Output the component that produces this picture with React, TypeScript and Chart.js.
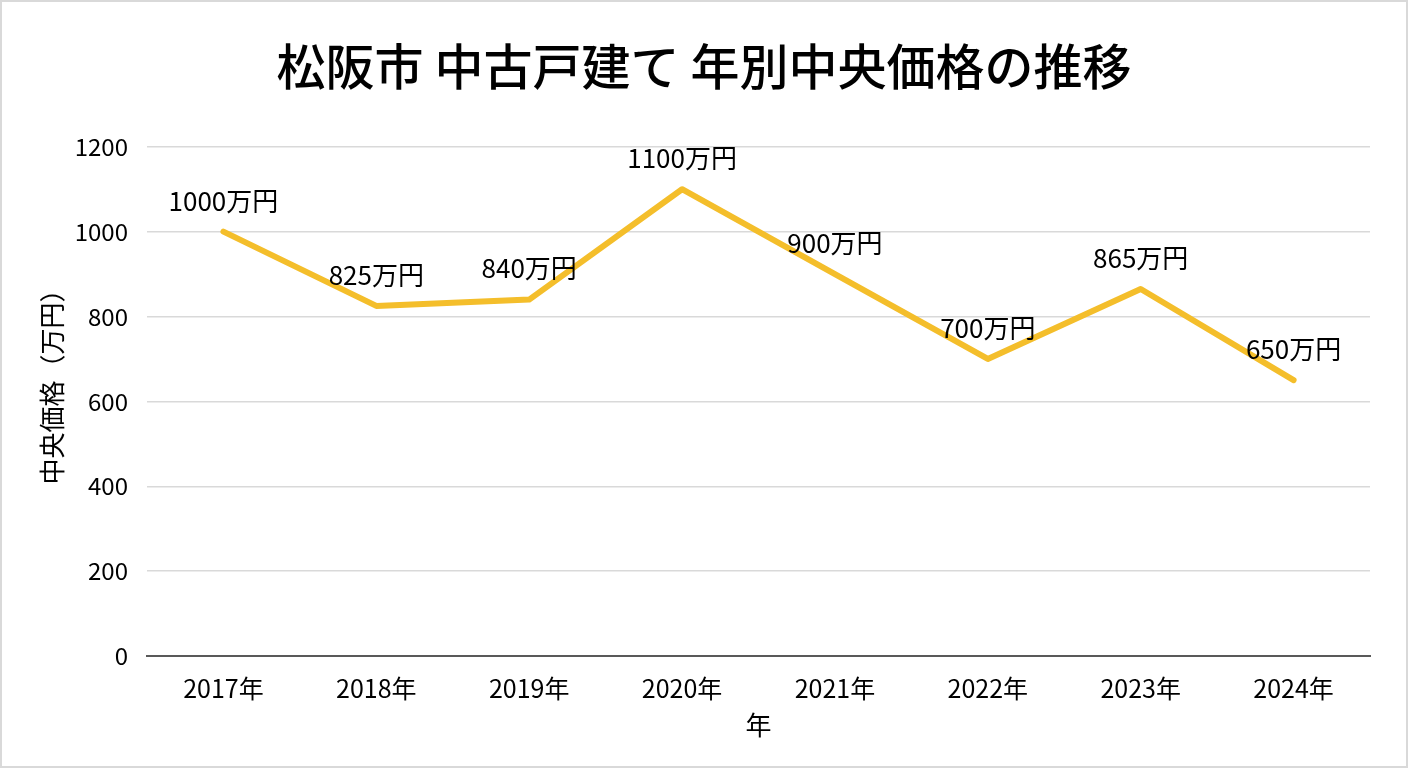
import React, { useEffect, useRef } from "react";
import { Chart, registerables } from "chart.js";

Chart.register(...registerables);

const categories = ["2017年", "2018年", "2019年", "2020年", "2021年", "2022年", "2023年", "2024年"];
const prices = [1000, 825, 840, 1100, 900, 700, 865, 650];
const dataLabels = ["1000万円", "825万円", "840万円", "1100万円", "900万円", "700万円", "865万円", "650万円"];
const yTicks = [0, 200, 400, 600, 800, 1000, 1200];
const yAxisTitle = "中央価格（万円）";

const FONT = "'Noto Sans CJK JP', 'Noto Sans', sans-serif";

const labelPlugin = {
  id: "pointLabels",
  afterDatasetsDraw(chart: any) {
    const meta = chart.getDatasetMeta(0);
    const ctx = chart.ctx;
    ctx.save();
    ctx.font = `26px ${FONT}`;
    ctx.fillStyle = "#000000";
    ctx.textAlign = "center";
    ctx.textBaseline = "middle";
    meta.data.forEach((pt: any, i: number) => {
      ctx.fillText(dataLabels[i], pt.x, pt.y - 31);
    });
    // y axis title
    const area = chart.chartArea;
    ctx.translate(50, (area.top + area.bottom) / 2 - 21);
    ctx.rotate(-Math.PI / 2);
    ctx.fillText(yAxisTitle, 0, 0);
    ctx.restore();
  },
};

export default function App() {
  const ref = useRef<HTMLCanvasElement>(null);
  useEffect(() => {
    document.body.style.margin = "0";
    const chart = new Chart(ref.current!, {
      type: "line",
      data: {
        labels: categories,
        datasets: [
          {
            data: prices,
            borderColor: "#F4BE2B",
            borderWidth: 6,
            pointRadius: 0,
            tension: 0,
            fill: false,
            borderJoinStyle: "round",
            borderCapStyle: "round",
          },
        ],
      },
      options: {
        animation: false,
        responsive: false,
        maintainAspectRatio: false,
        layout: { padding: { left: 0, right: 0, top: 0, bottom: 0 } },
        plugins: {
          legend: { display: false },
          tooltip: { enabled: false },
          title: {
            display: true,
            text: "松阪市 中古戸建て 年別中央価格の推移",
            color: "#000000",
            font: { family: FONT, size: 49, weight: "500" },
            padding: { top: 35, bottom: 51 },
          },
        },
        scales: {
          x: {
            offset: true,
            grid: { display: false, drawTicks: false },
            border: { display: true, color: "#595959", width: 2 },
            ticks: { color: "#000000", font: { family: FONT, size: 25 }, padding: 17, maxRotation: 0 },
            title: {
              display: true,
              text: "年",
              color: "#000000",
              font: { family: FONT, size: 26 },
              padding: { top: 0, bottom: 25 },
            },
            afterFit: (axis: any) => {
              axis.height = 110;
            },
          },
          y: {
            min: 0,
            max: 1200,
            afterBuildTicks: (axis: any) => {
              axis.ticks = yTicks.map((v) => ({ value: v }));
            },
            grid: { color: "#d9d9d9", lineWidth: 1.5, drawTicks: false },
            border: { display: false },
            ticks: {
              color: "#000000",
              font: { family: FONT, size: 24 },
              padding: 19,
              callback: (v: any) => String(v),
            },
            title: { display: false },
            afterFit: (axis: any) => {
              axis.width = 145;
            },
          },
          yRight: {
            type: "linear",
            position: "right",
            display: true,
            grid: { display: false, drawTicks: false },
            border: { display: false },
            ticks: { display: false },
            afterFit: (axis: any) => {
              axis.width = 36;
            },
          },
        },
      },
      plugins: [labelPlugin],
    });
    return () => chart.destroy();
  }, []);
  return (
    <div
      style={{
        position: "absolute",
        left: 0,
        top: 0,
        width: 1408,
        height: 768,
        boxSizing: "border-box",
        border: "2px solid #d9d9d9",
        background: "#ffffff",
      }}
    >
      <canvas ref={ref} width={1404} height={764} style={{ display: "block", width: 1404, height: 764 }} />
    </div>
  );
}
